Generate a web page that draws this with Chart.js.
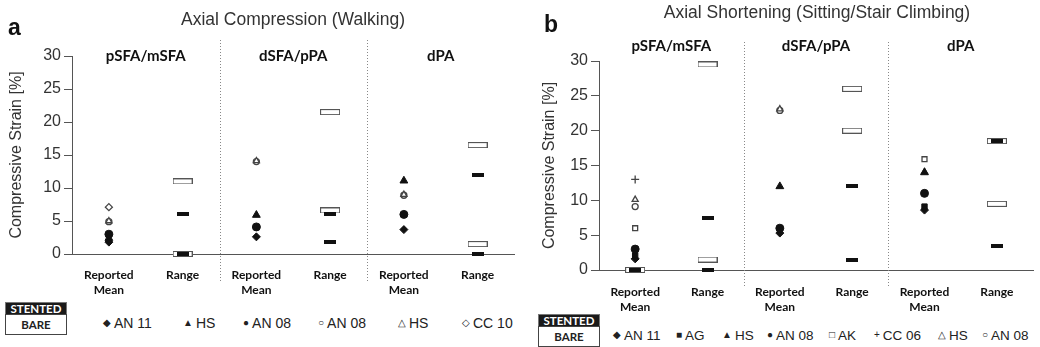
<!DOCTYPE html>
<html>
<head>
<meta charset="utf-8">
<script src="https://cdn.jsdelivr.net/npm/chart.js@4.4.1/dist/chart.umd.min.js"></script>
<style>
  body { margin: 0; background: #fff; width: 1040px; height: 347px; overflow: hidden; position: relative; font-family: "Liberation Sans", Arial, sans-serif; }
  canvas { position: absolute; top: 0; }
  .txt { position: absolute; white-space: nowrap; color: #333; }
  .title { font-size: 17.5px; transform: translate(-50%, -50%); }
  .letter { font-size: 23px; font-weight: bold; color: #111; transform: translateY(-50%); }
  .item { font-size: 14px; transform: translateY(-50%); color: #222; }
  .itemB { font-size: 13.5px; }
  .sym { font-size: 10px; position: relative; top: -2px; margin-right: 3px; }
  .box { position: absolute; width: 62px; font-family: Lato, sans-serif; font-weight: bold; font-size: 11.5px; text-align: center; box-sizing: border-box; }
  .stented { background: #1a1a1a; color: #fff; border: 1px solid #777; height: 13px; line-height: 11px; }
  .bare { background: #fff; color: #222; border: 1px solid #444; height: 21px; line-height: 19px; }
</style>
</head>
<body>
<canvas id="chartA" width="520" height="300" style="left:0px"></canvas>
<canvas id="chartB" width="520" height="320" style="left:520px"></canvas>

<div class="txt letter" style="left:8px;top:27px">a</div>
<div class="txt title" style="left:293px;top:19px">Axial Compression (Walking)</div>
<div class="txt letter" style="left:544px;top:24px">b</div>
<div class="txt title" style="left:817px;top:12px">Axial Shortening (Sitting/Stair Climbing)</div>

<div class="box stented" style="left:5px;top:302px">STENTED</div>
<div class="box bare" style="left:5px;top:314px">BARE</div>
<div class="box stented" style="left:538px;top:314px">STENTED</div>
<div class="box bare" style="left:538px;top:326px">BARE</div>

<div id="legendA"></div>
<div id="legendB"></div>

<script>
// kategorier og grupper (samme for begge paneler)
const categories = ["Reported Mean", "Range", "Reported Mean", "Range", "Reported Mean", "Range"];
const groups = ["pSFA/mSFA", "dSFA/pPA", "dPA"];
const meanX = [0.5, 2.5, 4.5];
const rangeX = [1.5, 3.5, 5.5];
const yTicks = [0, 5, 10, 15, 20, 25, 30];

// panel a - Axial Compression (Walking), reported mean pr. gruppe
const aAN11 = [1.8, 2.6, 3.7];      // stented
const aHS = [2.4, 5.9, 11.1];       // stented
const aAN08 = [3.0, 4.1, 6.0];      // stented
const aAN08bare = [4.9, 14.0, 8.9];
const aHSbare = [5.0, 14.1, 9.0];
const aCC10bare = [7.1, null, null];
// range (lav, høj) pr. gruppe
const aStentLow = [0, 1.8, 0];
const aStentHigh = [6.0, 6.0, 12.0];
const aBareLow = [0, 6.6, 1.5];
const aBareHigh = [11.0, 21.5, 16.5];

// panel b - Axial Shortening (Sitting/Stair Climbing)
const bAN11 = [1.6, 5.3, 8.6];      // stented
const bAG = [2.1, null, 9.1];       // stented
const bHS = [null, 12.0, 14.0];     // stented
const bAN08 = [3.0, 6.0, 11.0];     // stented
const bAKbare = [6.0, null, 15.9];
const bCC06bare = [13.0, null, null];
const bHSbare = [10.1, 23.1, 14.1];
const bAN08bare = [9.1, 22.9, null];
const bMeanStentBar = [0, null, null];
const bMeanBareBar = [0, null, null];
const bStentLow = [0, 1.5, 3.5];
const bStentHigh = [7.5, 12.0, 18.5];
const bBareLow = [1.5, 20.0, 9.5];
const bBareHigh = [29.5, 26.0, 18.5];

// legender
const aLegend = [["\u25C6", "AN 11", 103], ["\u25B2", "HS", 183], ["\u25CF", "AN 08", 243], ["\u25CB", "AN 08", 318], ["\u25B3", "HS", 398], ["\u25C7", "CC 10", 462]];
const bLegend = [["\u25C6", "AN 11", 613], ["\u25A0", "AG", 676], ["\u25B2", "HS", 722], ["\u25CF", "AN 08", 767], ["\u25A1", "AK", 829], ["+", "CC 06", 874], ["\u25B3", "HS", 938], ["\u25CB", "AN 08", 982]];

function makeLegend(id, items, top, extra) {
    let html = "";
    for (let i = 0; i < items.length; i++) {
        html += '<div class="txt item ' + extra + '" style="left:' + items[i][2] + 'px;top:' + top + 'px"><span class="sym">' + items[i][0] + '</span>' + items[i][1] + '</div>';
    }
    document.getElementById(id).innerHTML = html;
}
makeLegend("legendA", aLegend, 323, "");
makeLegend("legendB", bLegend, 335, "itemB");

// billeder til range-markører
function barImage(w, h, fill, stroke) {
    let c = document.createElement("canvas");
    c.width = w;
    c.height = h;
    let ctx = c.getContext("2d");
    ctx.fillStyle = fill;
    ctx.fillRect(0, 0, w, h);
    if (stroke) {
        ctx.strokeStyle = stroke;
        ctx.lineWidth = 1;
        ctx.strokeRect(0.5, 0.5, w - 1, h - 1);
    }
    return c;
}
const stentBar = barImage(12, 4, "#111", null);
const bareBar = barImage(20, 6, "#fff", "#555");

function pts(xs, values) {
    let out = [];
    for (let i = 0; i < values.length; i++) {
        if (values[i] !== null) out.push({x: xs[i], y: values[i]});
    }
    return out;
}

function marker(values, style, filled, radius) {
    return {
        data: pts(meanX, values),
        pointStyle: style,
        pointRadius: radius || 4,
        backgroundColor: filled ? "#111" : "#fff",
        borderColor: filled ? "#111" : "#444",
        borderWidth: filled ? 1 : 1.3,
        clip: false
    };
}

function rangeSet(xs, values, img) {
    return {data: pts(xs, values), pointStyle: img, pointRadius: 3, clip: false};
}

// plugin: stiplede skillelinjer og gruppe-overskrifter
const groupPlugin = {
    id: "groupPlugin",
    afterDraw(chart, args, opts) {
        let ctx = chart.ctx;
        let x = chart.scales.x;
        ctx.save();
        ctx.strokeStyle = "#888";
        ctx.lineWidth = 1;
        ctx.setLineDash([1, 2]);
        for (let d of [2, 4]) {
            let px = Math.round(x.getPixelForValue(d)) + 0.5;
            ctx.beginPath();
            ctx.moveTo(px, opts.lineTop);
            ctx.lineTo(px, opts.lineBottom);
            ctx.stroke();
        }
        ctx.setLineDash([]);
        ctx.fillStyle = "#111";
        ctx.font = "bold 15px Lato";
        ctx.textAlign = "center";
        ctx.textBaseline = "middle";
        for (let g = 0; g < groups.length; g++) {
            ctx.fillText(groups[g], x.getPixelForValue(g * 2 + 1), opts.headY);
        }
        ctx.restore();
    }
};

function makeChart(id, datasets, o) {
    return new Chart(document.getElementById(id).getContext("2d"), {
        type: "scatter",
        data: {datasets: datasets},
        plugins: [groupPlugin],
        options: {
            responsive: false,
            animation: false,
            devicePixelRatio: 1,
            layout: {padding: {top: o.top, right: o.right, left: 0, bottom: 0}},
            plugins: {
                legend: {display: false},
                tooltip: {enabled: false},
                groupPlugin: {lineTop: o.lineTop, lineBottom: o.lineBottom, headY: o.headY}
            },
            scales: {
                x: {
                    type: "linear",
                    min: 0,
                    max: 6,
                    afterBuildTicks: function (axis) {
                        axis.ticks = meanX.concat(rangeX).sort().map(function (v) { return {value: v}; });
                    },
                    afterFit: function (axis) { axis.height = o.xHeight; },
                    grid: {display: false},
                    border: {display: true, color: "#555", width: 1},
                    ticks: {
                        autoSkip: false,
                        maxRotation: 0,
                        padding: o.xPad,
                        color: "#111",
                        font: {family: "Lato", weight: "bold", size: 12, lineHeight: 1.3},
                        callback: function (v) {
                            let c = categories[Math.floor(v)];
                            return c === "Range" ? c : c.split(" ");
                        }
                    }
                },
                y: {
                    min: 0,
                    max: 30,
                    afterBuildTicks: function (axis) {
                        axis.ticks = yTicks.map(function (v) { return {value: v}; });
                    },
                    afterFit: function (axis) { axis.width = o.yWidth; },
                    grid: {display: true, drawOnChartArea: false, drawTicks: true, tickLength: 8, color: "#555"},
                    border: {display: true, color: "#555", width: 1},
                    ticks: {color: "#333", padding: 3, font: {family: "Liberation Sans", size: 16}},
                    title: {
                        display: true,
                        text: "Compressive Strain [%]",
                        color: "#333",
                        font: {family: "Liberation Sans", size: 16},
                        padding: {top: o.titlePad, bottom: 0}
                    }
                }
            }
        }
    });
}

// stented markører først så de tegnes øverst
let chartA = makeChart("chartA", [
    rangeSet(rangeX, aStentLow, stentBar),
    rangeSet(rangeX, aStentHigh, stentBar),
    marker(aAN08, "circle", true, 4),
    marker(aHS, "triangle", true, 4.5),
    marker(aAN11, "rectRot", true, 4),
    marker(aHSbare, "triangle", false, 3.5),
    marker(aAN08bare, "circle", false, 3),
    marker(aCC10bare, "rectRot", false, 3.5),
    rangeSet(rangeX, aBareLow, bareBar),
    rangeSet(rangeX, aBareHigh, bareBar)
], {top: 56, right: 3, yWidth: 72, xHeight: 46, xPad: 5, titlePad: 7, lineTop: 40, lineBottom: 283, headY: 56});

let chartB = makeChart("chartB", [
    rangeSet(rangeX, bStentLow, stentBar),
    rangeSet(rangeX, bStentHigh, stentBar),
    rangeSet(meanX, bMeanStentBar, stentBar),
    marker(bAN08, "circle", true, 4),
    marker(bHS, "triangle", true, 4.5),
    marker(bAG, "rect", true, 3.8),
    marker(bAN11, "rectRot", true, 4),
    marker(bHSbare, "triangle", false, 3.5),
    marker(bAN08bare, "circle", false, 3),
    marker(bAKbare, "rect", false, 3.5),
    marker(bCC06bare, "cross", false, 4),
    rangeSet(meanX, bMeanBareBar, bareBar),
    rangeSet(rangeX, bBareLow, bareBar),
    rangeSet(rangeX, bBareHigh, bareBar)
], {top: 61, right: 7, yWidth: 79, xHeight: 50, xPad: 6, titlePad: 20, lineTop: 42, lineBottom: 288, headY: 46});
</script>
</body>
</html>
